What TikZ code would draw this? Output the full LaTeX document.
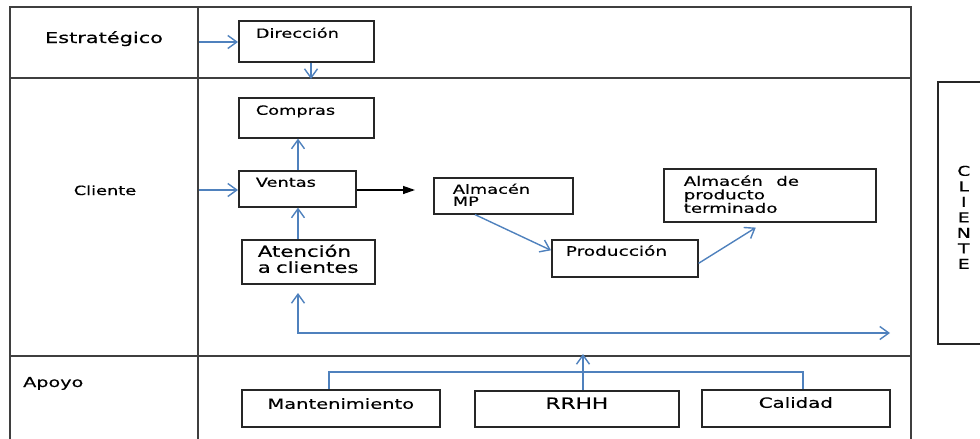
\documentclass[tikz,border=0pt]{standalone}
\usepackage{fontspec}
\usetikzlibrary{arrows.meta}
\newfontfamily\diagfont[FakeStretch=1.4, FakeBold=0.4]{DejaVu Sans}
\definecolor{flowblue}{HTML}{4F81BD}
\definecolor{framegray}{HTML}{3F3F3F}
\newcommand{\fsz}[2]{\fontsize{#1}{#2}\selectfont}

\begin{document}
\begin{tikzpicture}[x=1pt, y=-1pt,
  frame/.style={draw=framegray, line width=1.6pt},
  lane/.style={inner sep=0pt, font={\diagfont\fsz{12.7}{14}}},
  proc/.style={draw=black!85, line width=1.6pt, anchor=north west, inner ysep=0pt, align=left, font={\diagfont\fsz{12.7}{13.5}}},
  flow/.style={draw=flowblue, line width=1.4pt, -{Straight Barb[length=9pt, width=13pt]}}]
\useasboundingbox (0,0) rectangle (980,439);
\clip (0,0) rectangle (980,439);
% lanes
\draw[frame] (10,445) -- (10,7) -- (911,7) -- (911,445);
\draw[frame] (198,7) -- (198,445);
\draw[frame] (10,78) -- (911,78);
\draw[frame] (10,356) -- (911,356);
\node[lane, anchor=base, font={\diagfont\fsz{14.9}{16}}] (estr) at (104,43) {Estratégico};
\node[lane, anchor=base] (cli) at (105,195) {Cliente};
\node[lane, anchor=base west, font={\diagfont\fsz{13.7}{15}}] (apo) at (23,387) {Apoyo};
% boxes
\node[proc, inner xsep=17pt, text width=101pt, text height=17pt, text depth=24pt] (dir) at (238,20) {Dirección};
\node[proc, inner xsep=17pt, text width=101pt, text height=17pt, text depth=23pt] (comp) at (238,97) {Compras};
\node[proc, inner xsep=17pt, text width=83pt, text height=16pt, text depth=20pt] (ven) at (238,170) {Ventas};
\node[proc, inner xsep=16pt, text width=101pt, text height=17pt, text depth=27pt, font={\diagfont\fsz{15.2}{16}}] (aten) at (241,239) {Atención\\\mbox{a clientes}};
\node[proc, inner xsep=19pt, text width=101pt, text height=16pt, text depth=20pt, font={\diagfont\fsz{12.7}{12}}] (almmp) at (433,177) {Almacén\\MP};
\node[proc, inner xsep=14pt, text width=118pt, text height=16pt, text depth=21pt, font={\diagfont\fsz{13.2}{14}}] (prod) at (551,239) {Producción};
\node[proc, inner xsep=20pt, text width=172pt, text height=17pt, text depth=36pt, font={\diagfont\fsz{13}{13.5}}] (almpt) at (663,168) {Almacén\hspace{9pt} de\\producto\\terminado};
\node[proc, inner xsep=0pt, text width=198pt, align=center, text height=19pt, text depth=18pt, font={\diagfont\fsz{13.9}{15}}] (mant) at (241,389) {Mantenimiento};
\node[proc, inner xsep=0pt, text width=204pt, align=center, text height=18pt, text depth=18pt, font={\diagfont\fsz{15.5}{16}}] (rrhh) at (474,390) {RRHH};
\node[proc, inner xsep=0pt, text width=188pt, align=center, text height=18pt, text depth=19pt, font={\diagfont\fsz{14.1}{15}}] (cal) at (701,389) {Calidad};
\node[proc, inner xsep=0pt, text width=52pt, align=center, text height=94pt, text depth=168pt, font={\diagfont\fsz{13.5}{15.5}}] (cliente) at (937,81) {C\\L\\I\\E\\N\\T\\E};
% connectors
\coordinate (estrout) at (199,42);
\draw[flow] (estrout) -- (estrout -| dir.west);
\coordinate (dirout) at (311,79);
\draw[flow] (dirout |- dir.south) -- (dirout);
\coordinate (vencol) at (298,190);
\draw[flow] (vencol |- ven.north) -- (vencol |- comp.south);
\coordinate (cliout) at (199,190);
\draw[flow] (cliout) -- (cliout -| ven.west);
\coordinate (venout) at (415,190);
\draw[draw=black, line width=1.3pt, -{Triangle[length=12pt, width=8pt]}] (venout -| ven.east) -- (venout);
\draw[flow] (vencol |- aten.north) -- (vencol |- ven.south);
\coordinate (loopup) at (298,293);
\coordinate (loopout) at (890,333);
\draw[flow, {Straight Barb[length=9pt, width=13pt]}-{Straight Barb[length=9pt, width=13pt]}] (loopup) |- (loopout);
\draw[flow] ([xshift=42pt]almmp.south west) -- ([yshift=8pt]prod.west);
\draw[flow] ([yshift=-5pt]prod.east) -- ([xshift=-14pt, yshift=-5pt]almpt.south);
\coordinate (bus) at (583,372);
\draw[flow, -] ([xshift=-12pt]mant.north) |- (bus) -| ([xshift=7pt]cal.north);
\coordinate (rrhhout) at (583,354);
\draw[flow] (rrhhout |- rrhh.north) -- (rrhhout);
\end{tikzpicture}
\end{document}
